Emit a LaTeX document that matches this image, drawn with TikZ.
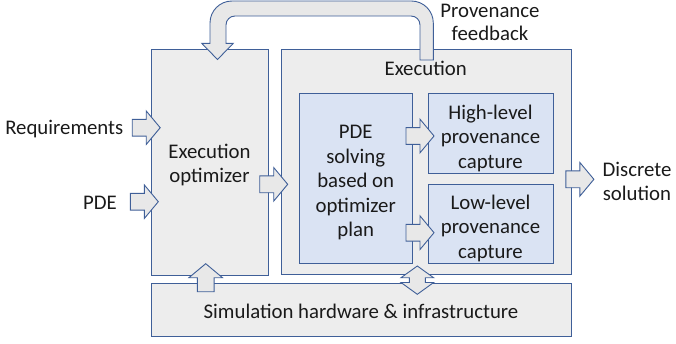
\documentclass[tikz,border=0pt]{standalone}
\usepackage{fontspec}
\setmainfont{Carlito}
\definecolor{bordc}{HTML}{3F5F98}
\definecolor{grayc}{HTML}{EDEDED}
\definecolor{bluec}{HTML}{DAE3F3}
\definecolor{arrc}{HTML}{E8E8E8}
\definecolor{txtc}{HTML}{1A1A1A}
\begin{document}
\begin{tikzpicture}[x=1pt,y=-1pt,
 every node/.style={font=\fontsize{20.8}{24.5}\selectfont, text=txtc, inner sep=0pt},
 gbox/.style={draw=bordc, fill=grayc, line width=0.9pt, anchor=north west},
 bbox/.style={draw=bordc, fill=bluec, line width=0.9pt, anchor=north west},
 lbl/.style={align=center},
 arr/.style={draw=bordc, fill=arrc, line width=0.9pt, line join=miter},
 barrow/.pic={\path[arr] (0,-8.4)--(14,-8.4)--(14,-16.8)--(28,0)--(14,16.8)--(14,8.4)--(0,8.4)--cycle;}
]
\useasboundingbox (0,0) rectangle (676,343);
% boxes
\node[gbox, minimum width=116.7pt, minimum height=226pt] (opt) at (151.3,49) {};
\node[gbox, minimum width=290.3pt, minimum height=225.3pt] (exec) at (280.7,49) {};
\node[gbox, minimum width=419.7pt, minimum height=53pt] (sim) at (151.3,283) {};
\node[bbox, minimum width=113.3pt, minimum height=170pt] (pde) at (299,93.3) {};
\node[bbox, minimum width=125.6pt, minimum height=79.4pt] (high) at (427.7,93.3) {};
\node[bbox, minimum width=125.6pt, minimum height=79.3pt] (low) at (427.7,184) {};
% box labels
\node[lbl] (optl) at (209.5,165) {Execution\\optimizer};
\node[lbl] (execl) at (425.7,68) {Execution};
\node[lbl] (siml) at (361,311) {Simulation hardware \& infrastructure};
\node[lbl] (pdel) at (355.7,182.5) {PDE\\solving\\based on\\optimizer\\plan};
\node[lbl] (highl) at (490.5,138) {High-level\\provenance\\capture};
\node[lbl] (lowl) at (490.5,228) {Low-level\\provenance\\capture};
% outside labels
\node[lbl, anchor=east] (req) at (123.5,129) {Requirements};
\node[lbl] (pdein) at (100,203) {PDE};
\node[lbl] (disc) at (637,181.5) {Discrete\\solution};
\node[lbl, font=\fontsize{20.8}{23.3}\selectfont] (fb) at (490,22.5) {Provenance\\feedback};
% block arrows
\pic at (132.2,127.7) {barrow};
\pic at (130.3,201.7) {barrow};
\pic at (259.7,184.3) {barrow};
\pic at (406,136) {barrow};
\pic at (406,232.7) {barrow};
\pic at (565.9,179.3) {barrow};
\pic[rotate=90] at (205.7,291.7) {barrow};
% double arrow
\path[arr] (417.3,266) -- (433.6,277.7) -- (425.3,277.7) -- (425.3,282.5) -- (433.6,282.5)
  -- (417.3,294.3) -- (401,282.5) -- (409.3,282.5) -- (409.3,277.7) -- (401,277.7) -- cycle;
% feedback arrow
\path[arr] (433.3,60) -- (433.3,23) .. controls (433.3,10.8) and (423.5,1) .. (411.3,1)
  -- (232,1) .. controls (219.8,1) and (210,10.8) .. (210,23) -- (210,43.3) -- (201.7,43.3)
  -- (217.5,59.5) -- (233.3,43.3) -- (226,43.3) -- (226,25) .. controls (226,20) and (230,16) .. (235,16)
  -- (411,16) .. controls (416,16) and (420,20) .. (420,25) -- (420,60) -- cycle;
\end{tikzpicture}
\end{document}
